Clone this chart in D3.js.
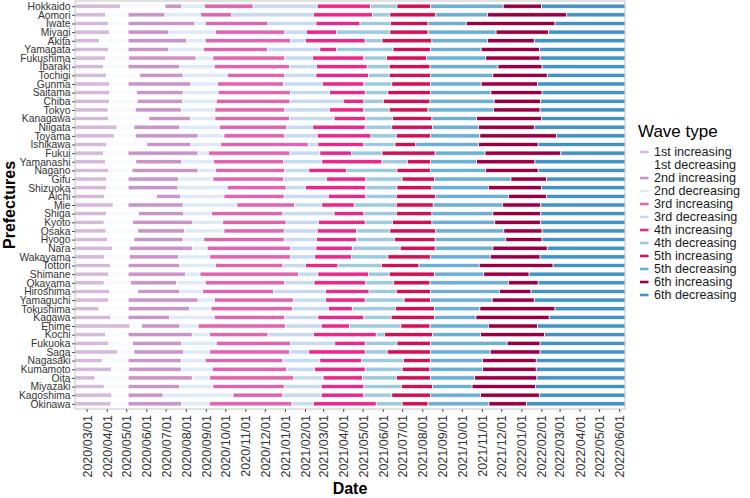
<!DOCTYPE html>
<html>
<head>
<meta charset="utf-8">
<script src="https://cdn.jsdelivr.net/npm/d3@7"></script>
<style>
  body { margin: 0; background: #fff; }
  svg { display: block; font-family: "Liberation Sans", Arial, Helvetica, sans-serif; }
</style>
</head>
<body>
<script>
// rows, top to bottom
const prefectures = ['Hokkaido', 'Aomori', 'Iwate', 'Miyagi', 'Akita', 'Yamagata', 'Fukushima',
  'Ibaraki', 'Tochigi', 'Gunma', 'Saitama', 'Chiba', 'Tokyo', 'Kanagawa', 'Niigata', 'Toyama',
  'Ishikawa', 'Fukui', 'Yamanashi', 'Nagano', 'Gifu', 'Shizuoka', 'Aichi', 'Mie', 'Shiga', 'Kyoto',
  'Osaka', 'Hyogo', 'Nara', 'Wakayama', 'Tottori', 'Shimane', 'Okayama', 'Hiroshima', 'Yamaguchi',
  'Tokushima', 'Kagawa', 'Ehime', 'Kochi', 'Fukuoka', 'Saga', 'Nagasaki', 'Kumamoto', 'Oita',
  'Miyazaki', 'Kagoshima', 'Okinawa']

const waveTypes = ['1st increasing', '1st decreasing', '2nd increasing', '2nd decreasing',
  '3rd increasing', '3rd decreasing', '4th increasing', '4th decreasing',
  '5th increasing', '5th decreasing', '6th increasing', '6th decreasing']

const waveColors = ['#d4b9da', '#f7fbff', '#c994c7', '#deebf7', '#df65b0', '#c6dbef',
  '#e7298a', '#9ecae1', '#ce1256', '#6baed6', '#980043', '#4292c6']

const periodStart = '2020-02-12'
const periodEnd = '2022-06-10'

// end date of each phase, one value per prefecture (same order as above)
const wave1IncEnd = ['2020-04-22', '2020-03-30', '2020-04-04', '2020-04-05', '2020-03-21', '2020-04-04', '2020-03-30',
  '2020-03-27', '2020-04-01', '2020-04-05', '2020-04-05', '2020-04-05', '2020-04-03', '2020-04-04', '2020-04-17', '2020-04-13',
  '2020-04-01', '2020-03-27', '2020-03-30', '2020-04-04', '2020-04-01', '2020-04-01', '2020-03-29', '2020-04-11', '2020-04-01', '2020-03-28',
  '2020-03-31', '2020-04-02', '2020-04-10', '2020-03-29', '2020-04-07', '2020-04-04', '2020-03-28', '2020-04-05', '2020-04-04',
  '2020-03-20', '2020-04-07', '2020-05-07', '2020-03-30', '2020-04-04', '2020-04-18', '2020-03-25', '2020-04-08', '2020-03-14',
  '2020-03-28', '2020-04-09', '2020-04-07']
const wave1DecEnd = ['2020-06-30', '2020-05-04', '2020-05-04', '2020-05-04', '2020-05-04', '2020-05-04', '2020-05-05',
  '2020-05-04', '2020-05-22', '2020-05-04', '2020-05-17', '2020-05-18', '2020-05-15', '2020-06-05', '2020-05-13', '2020-05-15',
  '2020-06-02', '2020-05-04', '2020-05-16', '2020-05-10', '2020-05-04', '2020-05-04', '2020-06-17', '2020-05-04', '2020-05-20', '2020-05-11',
  '2020-05-19', '2020-05-13', '2020-05-06', '2020-05-06', '2020-05-04', '2020-05-04', '2020-05-08', '2020-05-19', '2020-05-04',
  '2020-05-04', '2020-05-04', '2020-05-25', '2020-05-04', '2020-05-11', '2020-05-13', '2020-05-04', '2020-05-05', '2020-05-04',
  '2020-05-04', '2020-05-04', '2020-05-04']
const wave2IncEnd = ['2020-07-26', '2020-06-30', '2020-08-15', '2020-07-06', '2020-08-02', '2020-07-06', '2020-08-17',
  '2020-07-23', '2020-07-28', '2020-08-09', '2020-07-28', '2020-07-27', '2020-07-25', '2020-08-08', '2020-07-23', '2020-08-20',
  '2020-08-09', '2020-08-20', '2020-07-26', '2020-08-20', '2020-07-21', '2020-07-20', '2020-07-24', '2020-07-28', '2020-07-29', '2020-08-12',
  '2020-07-30', '2020-07-28', '2020-08-11', '2020-07-21', '2020-07-23', '2020-08-01', '2020-07-18', '2020-07-23', '2020-08-20',
  '2020-08-07', '2020-07-07', '2020-07-23', '2020-08-11', '2020-07-26', '2020-07-29', '2020-07-25', '2020-07-25', '2020-08-11',
  '2020-07-23', '2020-06-27', '2020-07-26']
const wave2DecEnd = ['2020-08-30', '2020-08-24', '2020-08-31', '2020-09-16', '2020-08-31', '2020-08-28', '2020-09-12',
  '2020-09-14', '2020-10-04', '2020-09-19', '2020-09-20', '2020-09-17', '2020-09-15', '2020-09-15', '2020-09-22', '2020-09-29',
  '2020-09-24', '2020-09-05', '2020-09-13', '2020-09-16', '2020-09-12', '2020-10-04', '2020-09-29', '2020-10-19', '2020-09-10', '2020-09-27',
  '2020-09-29', '2020-08-29', '2020-09-03', '2020-09-07', '2020-09-16', '2020-08-23', '2020-08-31', '2020-08-27', '2020-09-14',
  '2020-09-09', '2020-09-14', '2020-08-20', '2020-09-07', '2020-09-17', '2020-09-07', '2020-08-31', '2020-09-11', '2020-09-07',
  '2020-09-12', '2020-10-13', '2020-09-07']
const wave3IncEnd = ['2020-11-13', '2020-10-11', '2020-12-06', '2021-01-01', '2021-01-10', '2020-12-05', '2021-01-01',
  '2021-01-08', '2021-01-01', '2020-12-30', '2021-01-10', '2021-01-09', '2021-01-01', '2021-01-08', '2021-01-04', '2021-01-01',
  '2021-02-06', '2021-01-09', '2020-12-30', '2021-01-01', '2020-12-30', '2021-01-03', '2020-12-31', '2021-01-16', '2020-12-29', '2021-01-03',
  '2020-12-31', '2020-12-31', '2021-01-10', '2021-01-10', '2020-12-29', '2021-01-22', '2021-01-01', '2020-12-15', '2021-01-14',
  '2021-01-13', '2021-01-01', '2021-01-02', '2020-12-06', '2021-01-10', '2021-01-08', '2020-12-29', '2021-01-04', '2021-01-15',
  '2020-12-31', '2020-12-29', '2021-01-12']
const wave3DecEnd = ['2021-02-20', '2021-02-14', '2021-02-18', '2021-02-03', '2021-02-02', '2021-02-24', '2021-02-13',
  '2021-02-19', '2021-02-18', '2021-02-28', '2021-03-11', '2021-04-01', '2021-03-11', '2021-03-18', '2021-02-13', '2021-02-20',
  '2021-02-21', '2021-02-24', '2021-02-27', '2021-02-07', '2021-03-06', '2021-02-02', '2021-03-09', '2021-02-27', '2021-03-18', '2021-02-22',
  '2021-02-20', '2021-02-19', '2021-02-18', '2021-02-16', '2021-02-02', '2021-02-21', '2021-02-15', '2021-03-05', '2021-03-05',
  '2021-03-09', '2021-02-21', '2021-02-26', '2021-02-14', '2021-03-19', '2021-02-07', '2021-02-24', '2021-02-16', '2021-03-01',
  '2021-02-26', '2021-02-26', '2021-02-14']
const wave4IncEnd = ['2021-05-13', '2021-05-16', '2021-04-27', '2021-03-22', '2021-05-05', '2021-03-22', '2021-05-03',
  '2021-05-08', '2021-05-10', '2021-05-03', '2021-05-05', '2021-05-03', '2021-05-03', '2021-05-06', '2021-05-05', '2021-05-14',
  '2021-05-03', '2021-04-14', '2021-05-31', '2021-04-06', '2021-05-06', '2021-05-06', '2021-05-06', '2021-04-18', '2021-05-03', '2021-05-05',
  '2021-04-22', '2021-04-22', '2021-04-15', '2021-04-14', '2021-03-24', '2021-05-10', '2021-05-06', '2021-05-11', '2021-05-05',
  '2021-04-15', '2021-05-03', '2021-04-11', '2021-05-22', '2021-05-05', '2021-05-05', '2021-04-29', '2021-05-05', '2021-05-01',
  '2021-05-03', '2021-05-03', '2021-05-22']
const wave4DecEnd = ['2021-06-23', '2021-06-12', '2021-06-13', '2021-06-12', '2021-05-31', '2021-06-17', '2021-06-07',
  '2021-06-11', '2021-06-11', '2021-06-15', '2021-06-09', '2021-06-02', '2021-06-11', '2021-06-16', '2021-06-15', '2021-06-22',
  '2021-06-20', '2021-05-31', '2021-07-09', '2021-06-23', '2021-07-01', '2021-06-23', '2021-06-22', '2021-06-22', '2021-06-22', '2021-06-16',
  '2021-06-12', '2021-06-19', '2021-06-28', '2021-06-09', '2021-05-30', '2021-06-11', '2021-06-18', '2021-06-22', '2021-07-04',
  '2021-06-21', '2021-06-14', '2021-06-29', '2021-06-04', '2021-06-23', '2021-06-08', '2021-07-03', '2021-07-01', '2021-06-22',
  '2021-06-30', '2021-06-15', '2021-07-01']
const wave5IncEnd = ['2021-08-14', '2021-08-22', '2021-08-10', '2021-08-10', '2021-08-16', '2021-08-14', '2021-08-08',
  '2021-08-13', '2021-08-14', '2021-08-14', '2021-08-14', '2021-08-13', '2021-08-10', '2021-08-16', '2021-08-17', '2021-08-14',
  '2021-07-22', '2021-08-21', '2021-08-14', '2021-08-14', '2021-08-20', '2021-08-16', '2021-08-22', '2021-08-18', '2021-08-16', '2021-08-16',
  '2021-08-22', '2021-08-21', '2021-08-21', '2021-08-14', '2021-07-27', '2021-08-20', '2021-08-13', '2021-08-14', '2021-08-14',
  '2021-08-20', '2021-08-20', '2021-08-13', '2021-08-17', '2021-08-14', '2021-08-14', '2021-08-14', '2021-08-13', '2021-08-14',
  '2021-08-17', '2021-08-14', '2021-08-10']
const wave5DecEnd = ['2021-12-04', '2021-11-10', '2021-10-08', '2021-11-23', '2021-11-10', '2021-10-31', '2021-11-07',
  '2021-11-26', '2021-11-18', '2021-10-31', '2021-11-15', '2021-11-20', '2021-11-19', '2021-10-24', '2021-10-27', '2021-10-29',
  '2021-10-27', '2021-11-06', '2021-10-24', '2021-11-07', '2021-12-16', '2021-11-11', '2021-12-12', '2021-12-03', '2021-11-18', '2021-11-21',
  '2021-12-05', '2021-12-08', '2021-11-18', '2021-11-14', '2021-10-28', '2021-11-04', '2021-12-12', '2021-11-28', '2021-11-17',
  '2021-10-29', '2021-10-23', '2021-11-11', '2021-10-30', '2021-12-10', '2021-11-14', '2021-11-02', '2021-11-02', '2021-10-21',
  '2021-10-17', '2021-10-30', '2021-11-12']
const wave6IncEnd = ['2022-02-01', '2022-03-12', '2022-02-22', '2022-02-12', '2022-01-21', '2022-01-29', '2022-01-30',
  '2022-02-02', '2022-02-10', '2022-01-26', '2022-02-02', '2022-01-31', '2022-01-30', '2022-02-01', '2022-01-21', '2022-02-24',
  '2022-01-27', '2022-03-03', '2022-01-22', '2022-01-27', '2022-02-09', '2022-02-01', '2022-02-09', '2022-01-31', '2022-01-31', '2022-01-31',
  '2022-02-02', '2022-02-02', '2022-02-10', '2022-01-30', '2022-02-19', '2022-01-13', '2022-01-27', '2022-01-16', '2022-01-21',
  '2022-02-22', '2022-02-13', '2022-01-26', '2022-02-06', '2022-01-30', '2022-01-30', '2022-01-24', '2022-01-24', '2022-01-25',
  '2022-01-23', '2022-01-29', '2022-01-09']

const phaseEnds = [wave1IncEnd, wave1DecEnd, wave2IncEnd, wave2DecEnd, wave3IncEnd, wave3DecEnd,
  wave4IncEnd, wave4DecEnd, wave5IncEnd, wave5DecEnd, wave6IncEnd]

let width = 750
let height = 498
let margin = { top: 1, bottom: 89, left: 75, right: 125 }
let barHeight = 4.2

const parseDate = d3.utcParse('%Y-%m-%d')

// one record per coloured piece of a row
let segments = []
prefectures.forEach((pref, i) => {
  const edges = [periodStart].concat(phaseEnds.map(col => col[i]), [periodEnd])
  for (let k = 0; k < waveTypes.length; k++) {
    segments.push({ pref: pref, wave: waveTypes[k], from: parseDate(edges[k]), to: parseDate(edges[k + 1]) })
  }
})

const svg = d3.select('body')
  .append('svg')
  .attr('width', width)
  .attr('height', height)

const x = d3.scaleUtc()
  .domain([parseDate(periodStart), parseDate(periodEnd)])
  .range([margin.left, width - margin.right])

const y = d3.scalePoint()
  .domain(prefectures)
  .range([margin.top, height - margin.bottom])
  .padding(0.6)

const color = d3.scaleOrdinal()
  .domain(waveTypes)
  .range(waveColors)

// bars
svg.append('g')
  .selectAll('rect')
  .data(segments)
  .enter()
  .append('rect')
  .attr('x', d => x(d.from))
  .attr('width', d => Math.max(0, x(d.to) - x(d.from)))
  .attr('y', d => y(d.pref) - barHeight / 2)
  .attr('height', barHeight)
  .style('fill', d => color(d.wave))
  .style('stroke', '#ffffff')
  .style('stroke-width', 0.7)

// panel border
svg.append('rect')
  .attr('x', margin.left)
  .attr('y', margin.top)
  .attr('width', width - margin.left - margin.right)
  .attr('height', height - margin.top - margin.bottom)
  .style('fill', 'none')
  .style('stroke', '#b3b3b3')
  .style('stroke-width', 0.8)

// Y axis
const yAxis = svg.append('g')
  .attr('transform', `translate(${margin.left},0)`)
  .call(d3.axisLeft(y).tickSize(3).tickPadding(1.5))
yAxis.select('.domain').remove()
yAxis.selectAll('line').style('stroke', '#4d4d4d')
yAxis.selectAll('text')
  .style('font-size', '10.3px')
  .style('fill', '#333')
  .style('font-family', '"Liberation Sans", Arial, sans-serif')

// X axis
const xAxis = svg.append('g')
  .attr('transform', `translate(0,${height - margin.bottom})`)
  .call(d3.axisBottom(x).ticks(d3.utcMonth.every(1)).tickFormat(d3.utcFormat('%Y/%m/%d')).tickSize(3))
xAxis.select('.domain').remove()
xAxis.selectAll('line').style('stroke', '#4d4d4d')
xAxis.selectAll('text')
  .attr('transform', 'rotate(-90)')
  .attr('x', -6)
  .attr('y', 0)
  .attr('dy', '0.35em')
  .style('text-anchor', 'end')
  .style('font-size', '12.5px')
  .style('fill', '#333')
  .style('font-family', '"Liberation Sans", Arial, sans-serif')

// axis titles
svg.append('text')
  .attr('x', (margin.left + width - margin.right) / 2)
  .attr('y', 494)
  .attr('text-anchor', 'middle')
  .style('font-size', '16px')
  .style('font-weight', 'bold')
  .text('Date')

svg.append('text')
  .attr('transform', `translate(15,${(margin.top + height - margin.bottom) / 2}) rotate(-90)`)
  .attr('text-anchor', 'middle')
  .style('font-size', '16px')
  .style('font-weight', 'bold')
  .text('Prefectures')

// Legend
const legend = svg.append('g')
  .attr('transform', 'translate(638,0)')

legend.append('text')
  .attr('x', 0)
  .attr('y', 137)
  .style('font-size', '17px')
  .text('Wave type')

const items = legend.selectAll('.item')
  .data(waveTypes)
  .enter()
  .append('g')
  .attr('class', 'item')
  .attr('transform', (d, i) => `translate(0,${152 + i * 13})`)

items.append('line')
  .attr('x1', 2)
  .attr('x2', 10.5)
  .style('stroke', d => color(d))
  .style('stroke-width', 2.6)

items.append('text')
  .attr('x', 16)
  .attr('dy', '0.35em')
  .style('font-size', '12.6px')
  .style('fill', '#1a1a1a')
  .text(d => d)
</script>
</body>
</html>
